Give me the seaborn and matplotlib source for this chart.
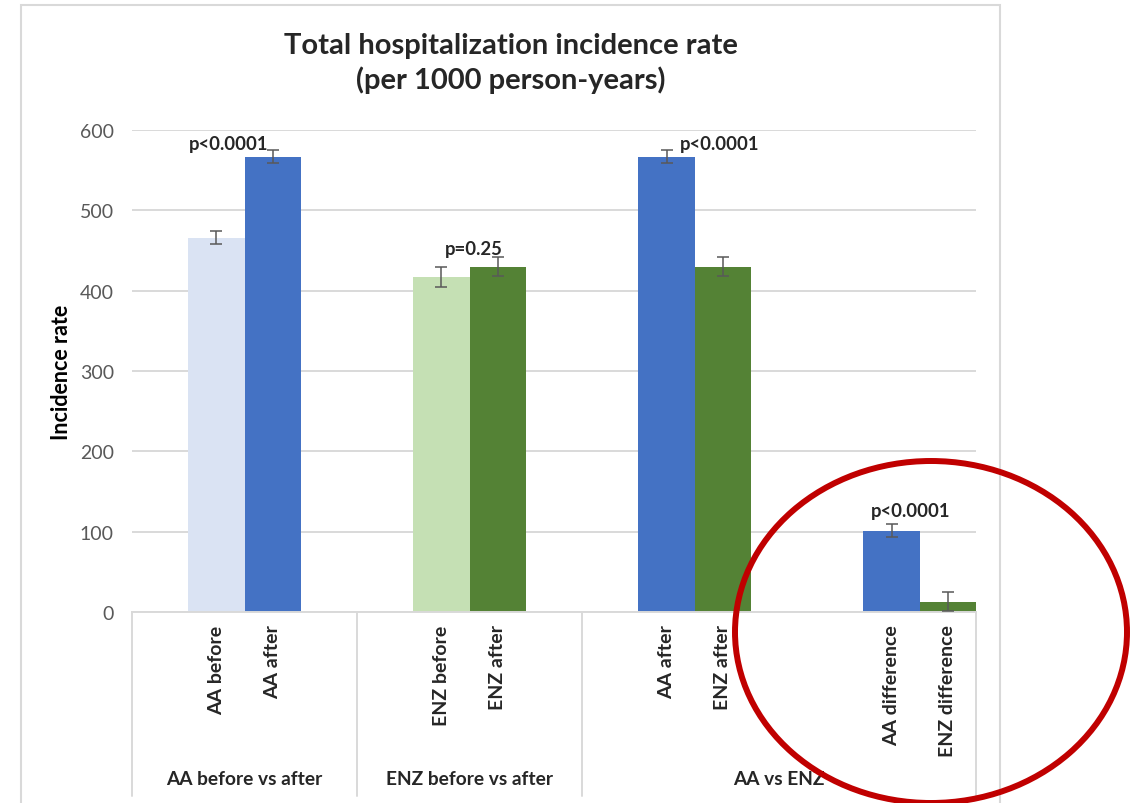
import matplotlib
matplotlib.use("Agg")
import matplotlib.pyplot as plt
from matplotlib.patches import Ellipse, Rectangle
import pandas as pd
import seaborn as sns

# Comparisons shown along the x axis, two bars each
comparisons = ["AA before vs after", "ENZ before vs after", "AA vs ENZ after", "AA vs ENZ difference"]
bar_labels = [["AA before", "AA after"],
              ["ENZ before", "ENZ after"],
              ["AA after", "ENZ after"],
              ["AA difference", "ENZ difference"]]
rates = [[466, 567], [417, 430], [567, 430], [101, 13]]
errors = [[8, 8.5], [12, 11.5], [8.5, 11.5], [8, 12]]
bar_colors = [["#DAE3F3", "#4472C4"],
              ["#C5E0B4", "#548235"],
              ["#4472C4", "#548235"],
              ["#4472C4", "#548235"]]
p_values = ["p<0.0001", "p=0.25", "p<0.0001", "p<0.0001"]
group_titles = ["AA before vs after", "ENZ before vs after", "AA vs ENZ"]
y_ticks = [0, 100, 200, 300, 400, 500, 600]

rows = []
for c, labels, vals, errs, cols in zip(comparisons, bar_labels, rates, errors, bar_colors):
    for slot, (lab, v, e, col) in enumerate(zip(labels, vals, errs, cols)):
        rows.append({"comparison": c, "slot": slot, "label": lab,
                     "rate": v, "err": e, "color": col})
df = pd.DataFrame(rows)

sns.set_theme(style="white")
plt.rcParams["font.family"] = ["Lato", "DejaVu Sans"]

W, H = 1133, 804
fig = plt.figure(figsize=(W / 100, H / 100), dpi=100)
ax = fig.add_axes([132 / W, 1 - 613 / H, (976 - 132) / W, (613 - 131) / H])

sns.barplot(data=df, x="comparison", y="rate", hue="slot", order=comparisons,
            width=0.5, dodge=True, errorbar=None, legend=False,
            palette=["#4472C4", "#548235"], saturation=1, linewidth=0, ax=ax)

# Colour each bar individually and attach its error bar
bars = sorted([p for p in ax.patches if p.get_height() > 0], key=lambda p: p.get_x())
centers = []
for bar, (_, r) in zip(bars, df.iterrows()):
    bar.set_facecolor(r["color"])
    bar.set_edgecolor("none")
    cx = bar.get_x() + bar.get_width() / 2
    centers.append(cx)
    ax.errorbar(cx, r["rate"], yerr=r["err"], fmt="none", ecolor="#595959",
                elinewidth=1.1, capsize=4.5, capthick=1.1, zorder=5)

ax.set_xlim(-0.5, 3.25)
ax.set_ylim(0, 600)
ax.set_yticks(y_ticks)
ax.set_xticks([])
ax.set_xlabel("")
ax.yaxis.grid(True, color="#D9D9D9", linewidth=1.4)
ax.set_axisbelow(True)
for side in ["top", "right", "left"]:
    ax.spines[side].set_visible(False)
ax.spines["bottom"].set_color("#D9D9D9")
ax.spines["bottom"].set_linewidth(1.4)
ax.tick_params(axis="y", length=0, pad=13, labelsize=14, labelcolor="#595959")

ax.set_ylabel("Incidence rate", fontsize=15.5, fontweight="bold", color="black")
ax.yaxis.set_label_coords((62 - 132) / (976 - 132), 0.5)
ax.yaxis.label.set_va("center")

# Rotated category labels beneath each bar
for cx, (_, r) in zip(centers, df.iterrows()):
    ax.annotate(r["label"], xy=(cx, 0), xycoords=("data", "axes fraction"),
                xytext=(0, -9), textcoords="offset points", rotation=90,
                ha="center", va="top", fontsize=14, fontweight="bold")

# Category table dividers and group titles
table_depth = (797 - 613) / (613 - 131)
for xd in [-0.5, 0.5, 1.5, 3.25]:
    ax.plot([xd, xd], [0, -table_depth], transform=ax.get_xaxis_transform(),
            color="#D9D9D9", linewidth=1.4, clip_on=False)
title_y = -(780 - 613) / (613 - 131)
for xc, t in zip([0, 1, (1.5 + 3.25) / 2], group_titles):
    ax.text(xc, title_y, t, transform=ax.get_xaxis_transform(), ha="center",
            va="center", fontsize=13.8, fontweight="bold")

# Significance labels above each pair
p_pos = [(-0.07, 583), (1.02, 452), (2.11, 583), (2.96, 126)]
for (xp, yp), txt in zip(p_pos, p_values):
    ax.text(xp, yp, txt, ha="center", va="center", fontsize=13.3, fontweight="bold")

fig.text(511 / W, 1 - 63.5 / H, "Total hospitalization incidence rate\n(per 1000 person-years)",
         ha="center", va="center", fontsize=21, fontweight="bold", linespacing=1.3)

# Chart frame
fig.patches.append(Rectangle((21 / W, -0.02), (1000 - 21) / W, 1.02 - 6 / H,
                             transform=fig.transFigure, fill=False,
                             edgecolor="#D9D9D9", linewidth=1.5))
# Highlight around the difference bars
fig.patches.append(Ellipse((931 / W, 1 - 633 / H), 392 / W, 342 / H,
                           transform=fig.transFigure, fill=False,
                           edgecolor="#C00000", linewidth=4.3, zorder=10))

fig.savefig("out.png", dpi=100)
